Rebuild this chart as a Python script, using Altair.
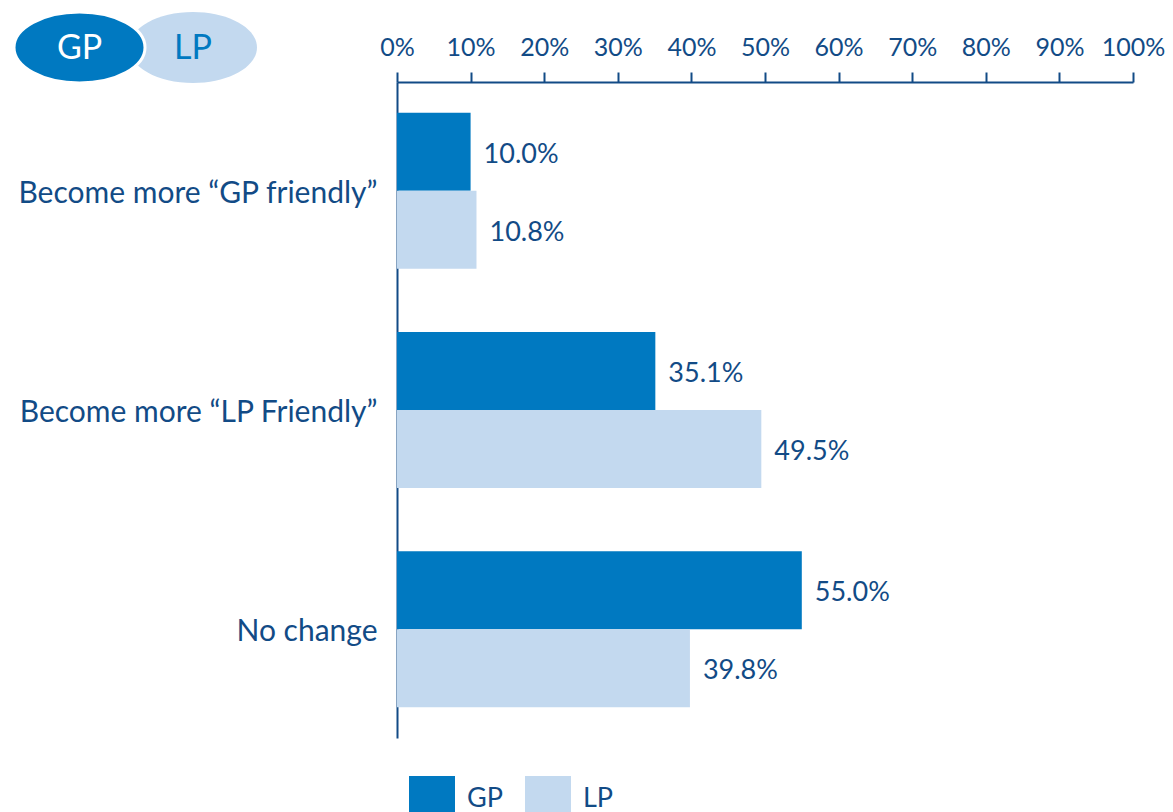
import altair as alt
import pandas as pd

categories = ["Become more \u201cGP friendly\u201d", "Become more \u201cLP Friendly\u201d", "No change"]
groups = ["GP", "LP"]
gp_values = [10.0, 35.1, 55.0]
lp_values = [10.8, 49.5, 39.8]
x_ticks = list(range(0, 101, 10))

rows = []
for c, g, l in zip(categories, gp_values, lp_values):
    rows.append({"category": c, "group": "GP", "value": g, "label": f"{g:.1f}%"})
    rows.append({"category": c, "group": "LP", "value": l, "label": f"{l:.1f}%"})
df = pd.DataFrame(rows)

NAVY = "#124b86"
GP_C = "#0079c1"
LP_C = "#c3d9ef"
FONT = "Lato"

y = alt.Y(
    "category:N", sort=categories,
    scale=alt.Scale(paddingInner=0.289, paddingOuter=0.14),
    axis=alt.Axis(title=None, ticks=False, tickSize=0, labelPadding=20, labelFontSize=30,
                  labelColor=NAVY, labelFont=FONT, domainColor=NAVY, domainWidth=2,
                  labelLimit=0, grid=False, labelOffset=3),
)
x = alt.X(
    "value:Q",
    scale=alt.Scale(domain=[0, 100], nice=False),
    axis=alt.Axis(orient="top", values=x_ticks, labelExpr="datum.value + '%'", title=None,
                  tickSize=10, tickColor=NAVY, tickWidth=2, domainColor=NAVY, domainWidth=2,
                  labelPadding=12, labelFontSize=25, labelColor=NAVY, labelFont=FONT,
                  grid=False, labelFlush=False),
)
color = alt.Color(
    "group:N",
    scale=alt.Scale(domain=groups, range=[GP_C, LP_C]),
    legend=alt.Legend(orient="none", legendX=12, legendY=694, direction="horizontal", title=None,
                      symbolType="square", symbolSize=2116, symbolStrokeWidth=0,
                      labelFontSize=27, labelColor=NAVY, labelFont=FONT, labelOffset=12,
                      columnPadding=22, padding=0, symbolOpacity=1),
)
yoff = alt.YOffset("group:N", sort=groups)

base = alt.Chart(df)
bars = base.mark_bar(stroke=None).encode(x=x, y=y, yOffset=yoff, color=color)
texts = base.mark_text(align="left", baseline="middle", dx=13, dy=3, fontSize=27, color=NAVY,
                       font=FONT).encode(x=x, y=y, yOffset=yoff, text="label:N")

ELL_GP = "M-1,0 A1,0.542 0 1,1 1,0 A1,0.542 0 1,1 -1,0 Z"
ELL_LP = "M-1,0 A1,0.555 0 1,1 1,0 A1,0.555 0 1,1 -1,0 Z"
badge_df = pd.DataFrame({"k": [0]})
badge = alt.Chart(badge_df)
lp_ell = badge.mark_point(shape=ELL_LP, size=128 * 128, filled=True, fill=LP_C, opacity=1,
                          strokeWidth=0).encode(x=alt.value(193 - 397), y=alt.value(47.5 - 82))
gp_ell = badge.mark_point(shape=ELL_GP, size=131 * 131, filled=True, fill=GP_C, opacity=1,
                          stroke="white", strokeWidth=3).encode(x=alt.value(79.5 - 397), y=alt.value(47.5 - 82))
gp_txt = badge.mark_text(fontSize=34, color="white", font=FONT, baseline="middle",
                         align="center").encode(x=alt.value(79.5 - 397), y=alt.value(49 - 82),
                                                text=alt.value("GP"))
lp_txt = badge.mark_text(fontSize=34, color=GP_C, font=FONT, baseline="middle",
                         align="center").encode(x=alt.value(193 - 397), y=alt.value(49 - 82),
                                                text=alt.value("LP"))

chart = alt.layer(bars, texts, lp_ell, gp_ell, gp_txt, lp_txt).properties(
    width=736, height=656,
    autosize=alt.AutoSizeParams(type="none"),
    padding={"left": 389, "top": 74, "right": 32, "bottom": 80},
).configure_view(stroke=None)

chart.save("out.html", embed_options={"renderer": "svg", "actions": False})
